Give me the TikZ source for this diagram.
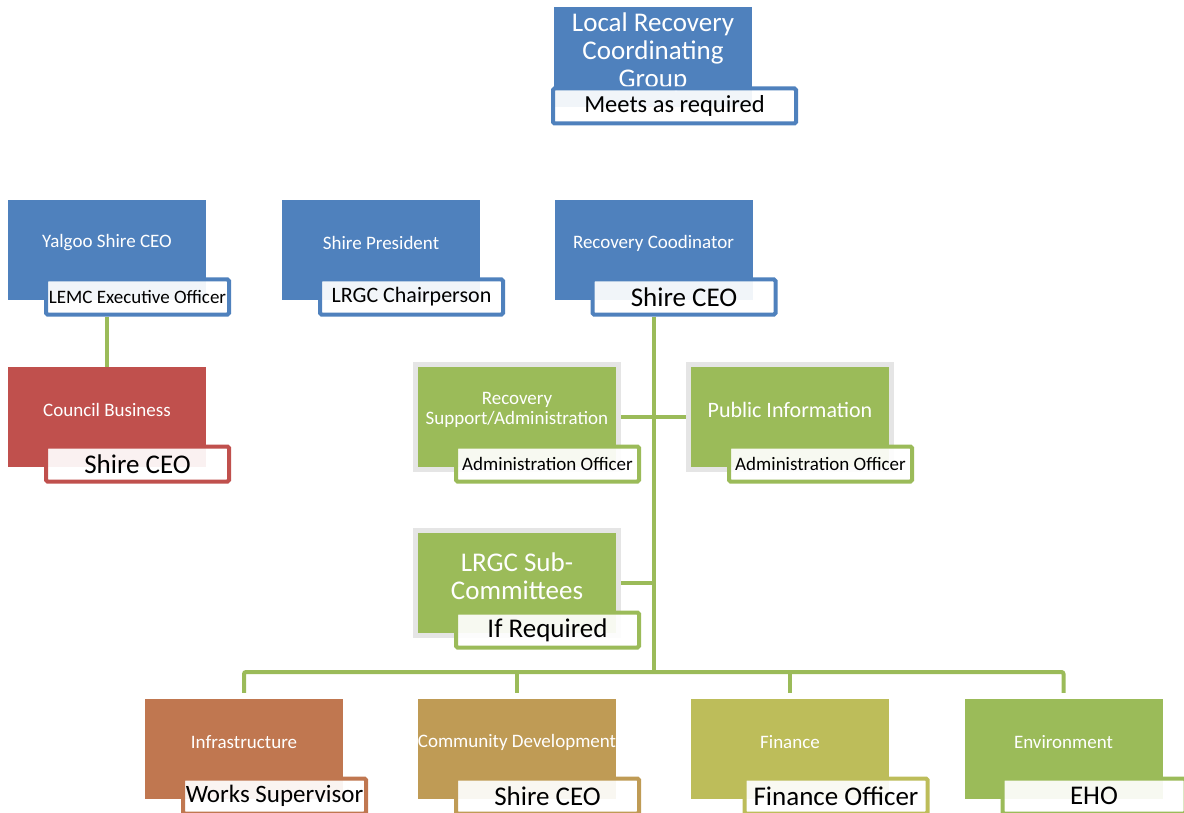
\documentclass[tikz,border=0pt]{standalone}
\usepackage{fontspec}
\setmainfont{Carlito}
\definecolor{lrblue}{HTML}{4F81BD}
\definecolor{lrred}{HTML}{C0504D}
\definecolor{lrgreen}{HTML}{9BBB59}
\definecolor{lrorange}{HTML}{C07750}
\definecolor{lrochre}{HTML}{BF9B55}
\definecolor{lrolive}{HTML}{BDBD5A}
\newcommand{\lrfs}[2]{\fontsize{#1}{#2}\selectfont}
\tikzset{
  unit/.style={rectangle,fill=#1,minimum width=198pt,minimum height=100pt,inner sep=0pt},
  ringed/.style={draw=black!10,line width=5pt,minimum width=203pt,minimum height=105pt},
  caption/.style={text=white,align=center,font=\lrfs{19}{20},yshift=7pt},
  role/.style={rectangle,draw=#1,line width=4pt,rounded corners=1.5pt,fill=white,fill opacity=.92,text opacity=1,
    minimum width=183pt,minimum height=35pt,inner sep=0pt,font=\lrfs{27}{28}},
  link/.style={draw=lrgreen,line width=4pt}
}
\begin{document}
\begin{tikzpicture}[x=1pt,y=-1pt]
\useasboundingbox (0,0) rectangle (1184,813);
\node[unit=lrblue,label={[caption,font=\lrfs{27}{28},yshift=-2pt]center:{Local Recovery\\Coordinating\\Group}}] (lrcg) at (653,57) {};
\node[role=lrblue,minimum width=243pt,font=\lrfs{24.5}{26}] (lrcg-role) at (674.5,106) {Meets as required};
\node[unit=lrblue,label={[caption]center:Yalgoo Shire CEO}] (yalgoo) at (107,250) {};
\node[role=lrblue,font=\lrfs{19}{20}] (yalgoo-role) at ([shift={(30.5,47)}]yalgoo.center) {LEMC Executive Officer};
\node[unit=lrblue,label={[caption]center:Shire President}] (president) at (381,250) {};
\node[role=lrblue,font=\lrfs{22}{24}] (president-role) at ([shift={(30.5,47)}]president.center) {LRGC Chairperson};
\node[unit=lrblue,label={[caption]center:Recovery Coodinator}] (coord) at (653.5,250) {};
\node[role=lrblue] (coord-role) at ([shift={(30.5,47)}]coord.center) {Shire CEO};
\node[unit=lrred,label={[caption]center:Council Business}] (council) at (107,417) {};
\node[role=lrred] (council-role) at ([shift={(30.5,47)}]council.center) {Shire CEO};
\node[unit=lrgreen,ringed,label={[caption]center:{Recovery\\Support/Administration}}] (recsup) at (517,417) {};
\node[role=lrgreen,font=\lrfs{19}{20}] (recsup-role) at ([shift={(30.5,47)}]recsup.center) {Administration Officer};
\node[unit=lrgreen,ringed,label={[caption,font=\lrfs{22}{24}]center:Public Information}] (pubinfo) at (790,417) {};
\node[role=lrgreen,font=\lrfs{19}{20}] (pubinfo-role) at ([shift={(30.5,47)}]pubinfo.center) {Administration Officer};
\node[unit=lrgreen,ringed,label={[caption,font=\lrfs{27}{28}]center:{LRGC Sub-\\Committees}}] (subcom) at (517,583) {};
\node[role=lrgreen] (subcom-role) at ([shift={(30.5,47)}]subcom.center) {If Required};
\foreach \name/\x/\col/\txt/\job/\fsz/\dx in {infra/244/lrorange/Infrastructure/Works Supervisor/25/30.5,
  comdev/517/lrochre/Community Development/Shire CEO/27/30.5,finance/790/lrolive/Finance/Finance Officer/27/46,
  enviro/1063.5/lrgreen/Environment/EHO/27/30.5}{
  \node[unit=\col,label={[caption]center:\txt}] (\name) at (\x,749) {};
  \node[role=\col,font=\lrfs{\fsz}{28}] (\name-role) at ([shift={(\dx,47)}]\name.center) {\job};
}
\coordinate (bus) at (653.5,672);
\draw[link] (yalgoo.center |- yalgoo-role.south) -- (council.north);
\draw[link] (coord.center |- coord-role.south) -- (coord.center |- bus);
\draw[link] (recsup.east) -- (pubinfo.west);
\draw[link] (subcom.east) -- (subcom.east -| coord.center);
\draw[link,rounded corners=2pt] ([yshift=6pt]infra.north) |- (bus) -| ([yshift=6pt]enviro.north);
\foreach \name in {comdev,finance}
  \draw[link] (\name.north |- bus) -- ([yshift=6pt]\name.north);
\end{tikzpicture}
\end{document}
